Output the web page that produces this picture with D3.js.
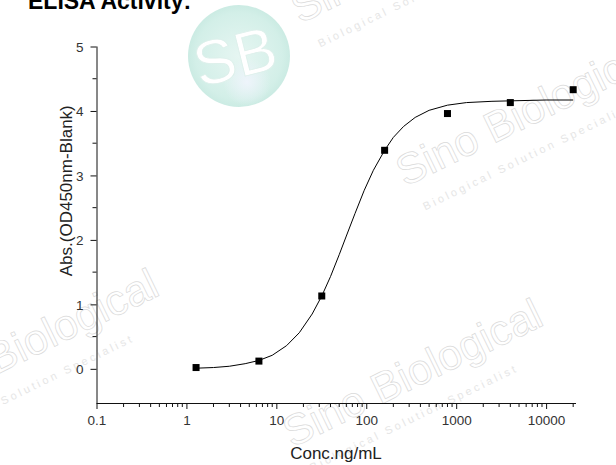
<!DOCTYPE html>
<html>
<head>
<meta charset="utf-8">
<script src="https://cdn.jsdelivr.net/npm/d3@7"></script>
<style>
  html, body { margin: 0; padding: 0; background: #fff; }
  svg { display: block; }
  text { font-family: "Liberation Sans", Arial, sans-serif; }
</style>
</head>
<body>
<svg id="chart" width="616" height="465"></svg>
<script>
// ---------- data ----------
const title = "ELISA Activity:";
const xLabel = "Conc.ng/mL";
const yLabel = "Abs.(OD450nm-Blank)";

// measured points (5-fold dilution series)
const concentrations = [1.28, 6.4, 32, 160, 800, 4000, 20000];
const absorbances    = [0.02, 0.12, 1.13, 3.39, 3.96, 4.13, 4.33];

// fitted curve
const curveConc = [1.28, 2, 3, 4.5, 6.4, 9, 13, 18, 25, 32, 40, 50, 60, 75, 95, 120, 160, 200, 260, 350, 500, 800, 1300, 2500, 5000, 10000, 20000];
const curveAbs  = [0.01, 0.02, 0.04, 0.08, 0.13, 0.21, 0.36, 0.56, 0.85, 1.13, 1.43, 1.77, 2.06, 2.41, 2.77, 3.08, 3.39, 3.59, 3.76, 3.90, 4.01, 4.09, 4.13, 4.15, 4.16, 4.17, 4.17];

const xTickValues = [0.1, 1, 10, 100, 1000, 10000];
const xTickLabels = ["0.1", "1", "10", "100", "1000", "10000"];
const yTickValues = [0, 1, 2, 3, 4, 5];
const yTickLabels = ["0", "1", "2", "3", "4", "5"];
const yMinorValues = [0.5, 1.5, 2.5, 3.5, 4.5];

const watermarkBig = "Sino Biological";
const watermarkSmall = "Biological Solution Specialist";

// ---------- layout ----------
const svg = d3.select("#chart");
const x = d3.scaleLog().domain([0.1, 21500]).range([96.5, 576]);
const y = d3.scaleLinear().domain([-0.53, 5]).range([403, 46.5]);

// ---------- watermarks (behind) ----------
const defs = svg.append("defs");
const grad = defs.append("radialGradient").attr("id", "logoGrad")
  .attr("cx", "50%").attr("cy", "50%").attr("r", "50%");
grad.append("stop").attr("offset", "0%").attr("stop-color", "#e6f6f2");
grad.append("stop").attr("offset", "85%").attr("stop-color", "#d3efe8");
grad.append("stop").attr("offset", "100%").attr("stop-color", "#cbebe3");
const glow = defs.append("radialGradient").attr("id", "glowGrad")
  .attr("cx", "50%").attr("cy", "50%").attr("r", "50%");
glow.append("stop").attr("offset", "0%").attr("stop-color", "#eef4fb").attr("stop-opacity", 1);
glow.append("stop").attr("offset", "100%").attr("stop-color", "#eef4fb").attr("stop-opacity", 0);

const wm = svg.append("g").attr("class", "watermarks");
const logo = wm.append("g").attr("transform", "translate(239,56)");
logo.append("circle").attr("r", 51).attr("fill", "url(#logoGrad)");
logo.append("circle").attr("cx", 8).attr("cy", 26).attr("r", 24).attr("fill", "url(#glowGrad)");
logo.append("text").attr("x", -4).attr("y", 21)
  .attr("transform", "rotate(-14)")
  .attr("text-anchor", "middle")
  .attr("font-size", 62).attr("font-family", "DejaVu Sans, sans-serif")
  .attr("fill", "#ffffff").attr("stroke", "#dcefea").attr("stroke-width", 0.8)
  .text("SB");

const wmPlaces = [[300, 24], [405, 187], [-92, 418], [292, 448]];
wmPlaces.forEach(p => {
  const g = wm.append("g").attr("transform", `translate(${p[0]},${p[1]}) rotate(-26)`);
  g.append("text").attr("x", 0).attr("y", 0)
    .attr("font-size", 43).attr("font-family", "DejaVu Sans, sans-serif")
    .attr("fill", "none").attr("stroke", "#dadada").attr("stroke-width", 0.7)
    .text(watermarkBig);
  g.append("text").attr("x", 8).attr("y", 30)
    .attr("font-size", 11).attr("letter-spacing", 3)
    .attr("font-family", "DejaVu Sans, sans-serif")
    .attr("fill", "#e6e6e6")
    .text(watermarkSmall);
});

// ---------- title (cut at top) ----------
svg.append("text").attr("x", 28).attr("y", 9)
  .attr("font-size", 23).attr("font-weight", "bold").attr("fill", "#000")
  .text(title);

// ---------- axes ----------
const axisColor = "#111";
const labelColor = "#333";

const xMinor = [];
[0.1, 1, 10, 100, 1000, 10000].forEach(d => {
  for (let k = 2; k <= 9; k++) { const v = d * k; if (v <= 21500) xMinor.push(v); }
});

const xAxisG = svg.append("g").attr("transform", `translate(0,${y.range()[0]})`);
xAxisG.call(d3.axisBottom(x).tickValues(xTickValues).tickFormat((d, i) => xTickLabels[i]).tickSize(6).tickPadding(6));
xAxisG.append("g").selectAll("line").data(xMinor).join("line")
  .attr("x1", d => x(d)).attr("x2", d => x(d)).attr("y1", 0).attr("y2", 4)
  .attr("stroke", axisColor);

const yAxisG = svg.append("g").attr("transform", `translate(${x.range()[0]},0)`);
yAxisG.call(d3.axisLeft(y).tickValues(yTickValues).tickFormat((d, i) => yTickLabels[i]).tickSize(6).tickPadding(7));
yAxisG.append("g").selectAll("line").data(yMinorValues).join("line")
  .attr("x1", 0).attr("x2", -4).attr("y1", d => y(d)).attr("y2", d => y(d))
  .attr("stroke", axisColor);

[xAxisG, yAxisG].forEach(g => {
  g.select(".domain").attr("stroke", axisColor).attr("stroke-width", 1);
  g.selectAll(".tick line").attr("stroke", axisColor);
  g.selectAll(".tick text").attr("fill", labelColor).attr("font-size", 13.5)
    .attr("font-family", "Liberation Sans, Arial, sans-serif");
});
xAxisG.select(".domain").attr("d", `M${x.range()[0]},0.5H${x.range()[1]}`);
yAxisG.select(".domain").attr("d", `M0.5,${y.range()[0]}V${y(5)}`);
yAxisG.selectAll(".tick text").attr("dy", "0.36em");

// axis labels
svg.append("text").attr("x", 336).attr("y", 459)
  .attr("text-anchor", "middle").attr("font-size", 17).attr("fill", "#222")
  .text(xLabel);
svg.append("text")
  .attr("transform", `translate(72,${(y(5) + y(-0.53)) / 2 - 34}) rotate(-90)`)
  .attr("text-anchor", "middle").attr("font-size", 17).attr("fill", "#222")
  .text(yLabel);

// ---------- fit curve ----------
const curveData = curveConc.map((c, i) => [c, curveAbs[i]]);
svg.append("path").datum(curveData)
  .attr("fill", "none").attr("stroke", "#000").attr("stroke-width", 1)
  .attr("d", d3.line().x(d => x(d[0])).y(d => y(d[1])));

// ---------- points ----------
const pts = concentrations.map((c, i) => [c, absorbances[i]]);
svg.append("g").selectAll("rect").data(pts).join("rect")
  .attr("x", d => x(d[0]) - 3.5).attr("y", d => y(d[1]) - 3.5)
  .attr("width", 7).attr("height", 7).attr("fill", "#000");
</script>
</body>
</html>
